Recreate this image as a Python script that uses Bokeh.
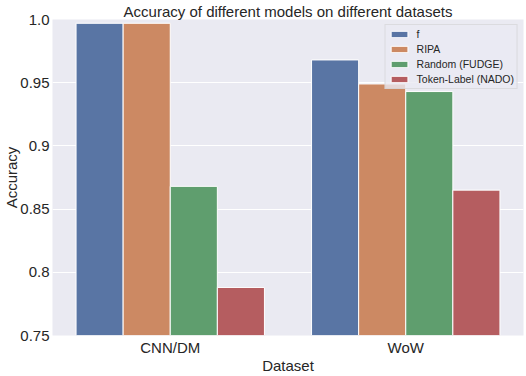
from bokeh.plotting import figure
from bokeh.models import ColumnDataSource, FixedTicker, Legend, LegendItem
from bokeh.transform import dodge
from bokeh.embed import file_html
from bokeh.resources import INLINE

datasets = ["CNN/DM", "WoW"]
dataset_pos = [0, 1]
models = ["f", "RIPA", "Random (FUDGE)", "Token-Label (NADO)"]
acc_f = [0.997, 0.968]
acc_ripa = [0.997, 0.949]
acc_random = [0.868, 0.943]
acc_token = [0.788, 0.865]
colors = ["#5975a4", "#cc8963", "#5f9e6e", "#b55d60"]
offsets = [-0.3, -0.1, 0.1, 0.3]
y_ticks = [0.75, 0.8, 0.85, 0.9, 0.95, 1.0]
y_tick_labels = ["0.75", "0.8", "0.85", "0.9", "0.95", "1.0"]

FONT = "Liberation Sans"
TXT = "#262626"

p = figure(width=526, height=376, output_backend="svg", toolbar_location=None,
           x_range=(-0.5, 1.5), y_range=(0.75, 1.0),
           title="Accuracy of different models on different datasets",
           min_border_left=0, min_border_right=3, min_border_top=0, min_border_bottom=0)
p.background_fill_color = "#eaeaf2"
p.border_fill_color = "white"
p.outline_line_color = None

series = [acc_f, acc_ripa, acc_random, acc_token]
items = []
for name, vals, col, off in zip(models, series, colors, offsets):
    src = ColumnDataSource(dict(x=dataset_pos, top=vals))
    r = p.vbar(x=dodge("x", off), top="top", bottom=0.75, width=0.2, source=src,
               fill_color=col, line_color="white", line_width=1)
    items.append(LegendItem(label=name, renderers=[r]))

legend = Legend(items=items, location="top_right")
legend.label_text_font = FONT
legend.label_text_font_size = "10.5px"
legend.label_text_color = TXT
legend.label_height = 10
legend.glyph_height = 8
legend.glyph_width = 21
legend.spacing = 3
legend.padding = 3
legend.margin = 5
legend.label_standoff = 7
legend.background_fill_color = "#eaeaf2"
legend.background_fill_alpha = 0.8
legend.border_line_color = "#cccccc"
legend.border_line_width = 1
p.add_layout(legend)

p.title.text_font = FONT
p.title.text_font_size = "15px"
p.title.text_font_style = "normal"
p.title.text_color = TXT
p.title.align = "center"
p.title.standoff = 0
p.title.offset = 0

p.xgrid.grid_line_color = None
p.ygrid.grid_line_color = "white"
p.ygrid.grid_line_width = 1
p.yaxis.ticker = FixedTicker(ticks=y_ticks)
p.yaxis.major_label_overrides = {t: l for t, l in zip(y_ticks, y_tick_labels)}
p.xaxis.ticker = FixedTicker(ticks=dataset_pos)
p.xaxis.major_label_overrides = {i: d for i, d in zip(dataset_pos, datasets)}

p.xaxis.axis_label = "Dataset"
p.yaxis.axis_label = "Accuracy"
for ax in (p.xaxis, p.yaxis):
    ax.axis_line_color = None
    ax.major_tick_line_color = None
    ax.minor_tick_line_color = None
    ax.major_tick_out = 0
    ax.major_tick_in = 0
    ax.minor_tick_out = 0
    ax.minor_tick_in = 0
    ax.major_label_text_font = FONT
    ax.major_label_text_font_size = "15px"
    ax.major_label_text_color = TXT
    ax.major_label_text_line_height = 1.0
    ax.axis_label_text_font = FONT
    ax.axis_label_text_font_size = "15px"
    ax.axis_label_text_font_style = "normal"
    ax.axis_label_text_color = TXT
    ax.axis_label_text_line_height = 1.0
p.xaxis.major_label_standoff = 3
p.xaxis.axis_label_standoff = -2
p.yaxis.major_label_standoff = 3
p.yaxis.axis_label_standoff = -3

open("out.html", "w").write(file_html(p, INLINE))
